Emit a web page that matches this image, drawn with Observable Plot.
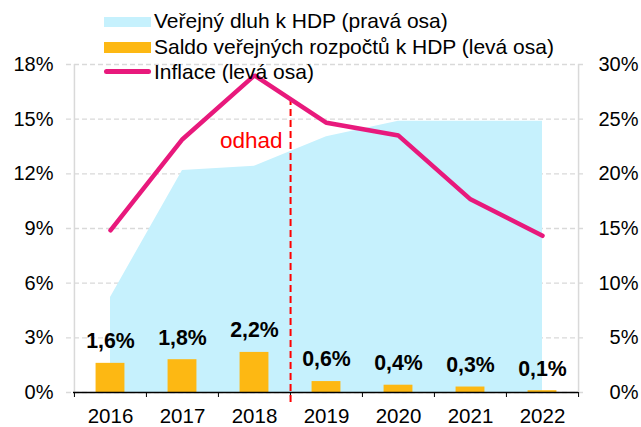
<!DOCTYPE html>
<html>
<head>
<meta charset="utf-8">
<script src="https://cdn.jsdelivr.net/npm/d3@7"></script>
<script src="https://cdn.jsdelivr.net/npm/@observablehq/plot@0.6"></script>
<style>
  body { margin: 0; background: #fff; }
  #wrap { position: relative; width: 641px; height: 427px; font-family: "Liberation Sans", Arial, sans-serif; }
  .leg { position: absolute; left: 154px; font-size: 21px; line-height: 24px; color: #000; white-space: nowrap; }
  .sw { position: absolute; left: 104px; width: 47px; }
</style>
</head>
<body>
<div id="wrap"></div>
<script>
const years = ["2016", "2017", "2018", "2019", "2020", "2021", "2022"];
const dluh = [8.7, 20.3, 20.7, 23.4, 24.8, 24.8, 24.8];      // right axis, % HDP
const saldo = [1.6, 1.8, 2.2, 0.6, 0.4, 0.3, 0.1];           // left axis
const inflace = [8.9, 13.9, 17.4, 14.8, 14.1, 10.6, 8.6];    // left axis
const leftTicks = [0, 3, 6, 9, 12, 15, 18];
const rightTicks = [0, 5, 10, 15, 20, 25, 30];
const legendLabels = [
  "Veřejný dluh k HDP (pravá osa)",
  "Saldo veřejných rozpočtů k HDP (levá osa)",
  "Inflace (levá osa)"
];
const estimateLabel = "odhad";
const estimateAfter = "2018";
const estimateSpan = [-0.55, 16.1];
const estimateLabelY = 13.8;

const leftMax = 18, rightMax = 30;
const toLeft = v => v * leftMax / rightMax;
const data = years.map((y, i) => ({year: y, dluh: dluh[i], saldo: saldo[i], inflace: inflace[i]}));
const fmt = v => v.toFixed(1).replace(".", ",") + "%";

const W = 641, H = 427, mL = 73, mR = 63, mT = 64, mB = 35;
const half = (W - mL - mR) / years.length / 2;

const chart = Plot.plot({
  width: W, height: H,
  marginLeft: mL, marginRight: mR, marginTop: mT, marginBottom: mB,
  style: {fontFamily: '"Liberation Sans", Arial, sans-serif', fontSize: "20px", color: "#000", background: "#fff", overflow: "visible"},
  x: {type: "band", domain: years, padding: 0, label: null},
  y: {domain: [0, leftMax], label: null},
  marks: [
    Plot.ruleY(leftTicks, {stroke: "#d9d9d9", strokeWidth: 1.3, strokeDasharray: "5,3", insetLeft: -7, insetRight: -7}),
    Plot.areaY(data, {x: "year", y: d => toLeft(d.dluh), fill: "#c6f1fd"}),
    Plot.ruleX([years[0]], {y1: 0, y2: leftMax, dx: -half, stroke: "#d9d9d9", strokeWidth: 1.5}),
    Plot.ruleX([years[years.length - 1]], {y1: 0, y2: leftMax, dx: half, stroke: "#d9d9d9", strokeWidth: 1.5}),
    Plot.barY(data, {x: "year", y: "saldo", fill: "#fdb813", insetLeft: half - 14.5, insetRight: half - 14.5}),
    Plot.ruleY([0], {stroke: "#000", strokeWidth: 1.3}),
    Plot.axisX({tickSize: 5, dx: -half, tickFormat: () => "", stroke: "#000", label: null}),
    Plot.axisX([years[years.length - 1]], {tickSize: 5, dx: half, tickFormat: () => "", stroke: "#000", label: null}),
    Plot.axisX({tickSize: 0, tickPadding: 16, fontSize: 20.5, label: null}),
    Plot.axisY({ticks: leftTicks, tickSize: 0, tickPadding: 20, tickFormat: d => d + "%", fontSize: 20, label: null}),
    Plot.axisY({anchor: "right", ticks: rightTicks.map(toLeft), tickSize: 0, tickPadding: 60, textAnchor: "end",
      tickFormat: d => Math.round(d * rightMax / leftMax) + "%", fontSize: 20, label: null}),
    Plot.ruleX([estimateAfter], {y1: estimateSpan[0], y2: estimateSpan[1], dx: half, stroke: "#ff0000", strokeWidth: 2, strokeDasharray: "7,4"}),
    Plot.text([estimateLabel], {x: () => estimateAfter, y: () => estimateLabelY, text: d => d, dx: half - 8, textAnchor: "end", fill: "#ff0000", fontSize: 22.5}),
    Plot.text(data, {x: "year", y: "saldo", text: d => fmt(d.saldo), dy: -22, fontWeight: "bold", fontSize: 21.3, fill: "#000"}),
    Plot.lineY(data, {x: "year", y: "inflace", stroke: "#e8197c", strokeWidth: 4.5, strokeLinejoin: "miter", strokeLinecap: "round"})
  ]
});

const wrap = document.getElementById("wrap");
wrap.appendChild(chart);

const swatches = [
  {top: 17, height: 10, bg: "#c6f1fd"},
  {top: 42, height: 11, bg: "#fdb813"},
  {top: 69, height: 4.5, bg: "#e8197c", radius: "3px"}
];
const textTops = [9, 35, 60];
legendLabels.forEach((lab, i) => {
  const s = document.createElement("div");
  s.className = "sw";
  s.style.top = swatches[i].top + "px";
  s.style.height = swatches[i].height + "px";
  s.style.background = swatches[i].bg;
  if (swatches[i].radius) s.style.borderRadius = swatches[i].radius;
  wrap.appendChild(s);
  const t = document.createElement("div");
  t.className = "leg";
  t.style.top = textTops[i] + "px";
  t.textContent = lab;
  wrap.appendChild(t);
});
</script>
</body>
</html>
